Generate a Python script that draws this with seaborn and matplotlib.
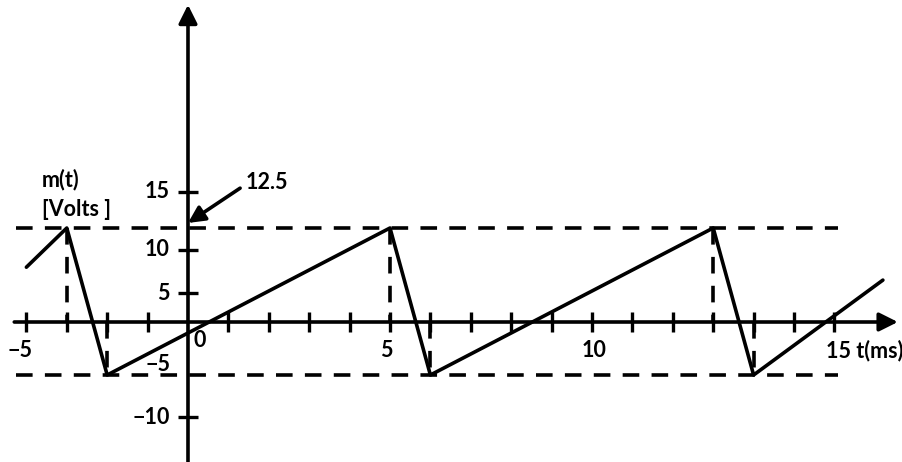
import numpy as np
import pandas as pd
import matplotlib
matplotlib.use("Agg")
import matplotlib.pyplot as plt
import seaborn as sns

# sawtooth corners (t in ms, m in volts)
t_ms = [-4, -3, -2, 5, 6, 13, 14, 17.2]
m_volts = [8, 12.5, -5, 12.5, -5, 12.5, -5, 6.5]

peak_times = [-3, 5, 13]
trough_times = [-2, 6, 14]
v_max = 12.5
v_min = -5

x_ticks = [-4, -3, -2, -1, 1, 2, 3, 4, 5, 6, 7, 8, 9, 10, 11, 12, 13, 14, 15, 16]
x_tick_labels = ["\u22125", "0", "5", "10", "15 t(ms)"]
x_label_at = [-4.15, 0.3, 4.9, 10.05, 15.8]

y_ticks = [15, 10, 5, -10]
y_tick_labels = ["15", "10", "5", "\u221210"]

# the drawing is not to scale on the voltage axis: calibration value -> pixel row
scale_v = [-15, -10, -5, 0, 5, 10, 12.5, 15, 35]
scale_px = [462, 417, 375, 322, 293, 250, 228, 192, 0]


def fwd(v):
    return -np.interp(v, scale_v, scale_px)


def inv(u):
    return np.interp(-np.asarray(u), scale_px[::-1], scale_v[::-1])


sns.set_style("white")
plt.rcParams["font.family"] = ["Lato", "DejaVu Sans"]

fig = plt.figure(figsize=(9.02, 4.62), dpi=100)
ax = fig.add_axes([0, 0, 1, 1])
ax.set_yscale("function", functions=(fwd, inv))
ax.set_xlim(-4.653, 17.673)
ax.set_ylim(-15, 35)

lw = 2.6
dash = (0, (4.6, 3.4))

# dashed guide lines
ax.plot([-4.25, 16.1], [v_max, v_max], color="k", lw=lw, linestyle=dash)
ax.plot([-4.25, 16.1], [v_min, v_min], color="k", lw=lw, linestyle=dash)
for tp in peak_times:
    ax.plot([tp, tp], [v_max, 0], color="k", lw=lw, linestyle=dash)
for tt in trough_times:
    ax.plot([tt, tt], [0, v_min], color="k", lw=lw, linestyle=dash)

# waveform
df = pd.DataFrame({"t": t_ms, "m": m_volts})
sns.lineplot(data=df, x="t", y="m", ax=ax, color="k", lw=lw, sort=False,
             estimator=None)

# axes with arrows
for s in ax.spines.values():
    s.set_visible(False)
ax.spines["left"].set_position(("data", 0))
ax.spines["bottom"].set_position(("data", 0))
ax.annotate("", xy=(17.57, 0), xytext=(-4.3, 0),
            arrowprops=dict(arrowstyle="-|>", lw=lw, color="k",
                            mutation_scale=28, shrinkA=0, shrinkB=0))
ax.annotate("", xy=(0, 34.5), xytext=(0, -15),
            arrowprops=dict(arrowstyle="-|>", lw=lw, color="k",
                            mutation_scale=28, shrinkA=0, shrinkB=0))

ax.set_xticks(x_ticks)
ax.set_yticks(y_ticks)
ax.yaxis.set_minor_locator(matplotlib.ticker.NullLocator())
ax.tick_params(direction="inout", length=15, width=2.4, color="k",
               labelbottom=False, labelleft=False, bottom=True, left=True)
ax.set_xlabel("")
ax.set_ylabel("")

font = dict(fontsize=15.5, fontweight="bold", color="k")
for lab, xp in zip(x_tick_labels, x_label_at):
    ha = "left" if lab.startswith("15") else "center"
    yy = -1.7 if lab == "0" else -2.7
    ax.text(xp, yy, lab, ha=ha, va="center", **font)
for lab, yv in zip(y_tick_labels, y_ticks):
    ax.text(-0.45, yv, lab, ha="right", va="center", **font)
ax.text(-0.42, -4.0, "\u22125", ha="right", va="center", **font)

ax.text(-3.62, 16.3, "m(t)", ha="left", va="center", **font)
ax.text(-3.62, 13.8, "[Volts ]", ha="left", va="center", **font)

ax.annotate("", xy=(0, 12.85), xytext=(1.29, 15.4),
            arrowprops=dict(arrowstyle="-|>", lw=lw, color="k",
                            mutation_scale=25, shrinkA=0, shrinkB=0))
ax.text(1.42, 16.0, "12.5", ha="left", va="center", **font)

fig.savefig("out.png", dpi=100)
